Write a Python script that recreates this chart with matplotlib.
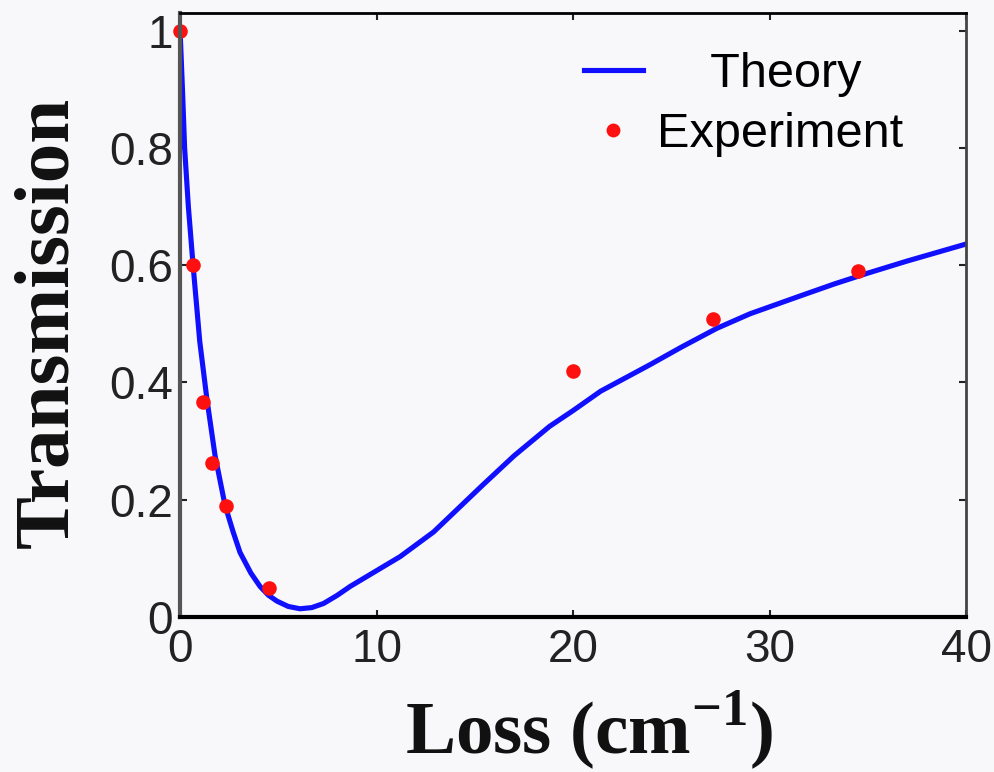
import matplotlib
matplotlib.use("Agg")
import matplotlib.pyplot as plt

exp_loss = [0.0, 0.66, 1.17, 1.63, 2.34, 4.53, 20.0, 27.1, 34.5]
exp_trans = [1.0, 0.60, 0.366, 0.263, 0.19, 0.05, 0.419, 0.508, 0.59]

# Theory curve, sampled by eye along the blue line
theory_loss = [0.0, 0.12, 0.23, 0.42, 0.66, 1.0, 1.37, 1.78, 2.29, 2.7, 3.05,
               3.6, 4.07, 4.5, 4.93, 5.5, 6.1, 6.7, 7.3, 8.0, 8.65, 10.0,
               11.2, 12.9, 15.4, 17.0, 18.8, 20.0, 21.4, 23.9, 25.5, 27.3,
               29.0, 31.6, 33.3, 34.96, 37.0, 40.0]
theory_trans = [1.0, 0.90, 0.80, 0.70, 0.60, 0.47, 0.37, 0.275, 0.19, 0.145,
                0.11, 0.075, 0.052, 0.037, 0.027, 0.018, 0.014, 0.016, 0.023,
                0.037, 0.052, 0.079, 0.103, 0.145, 0.225, 0.275, 0.325, 0.352,
                0.385, 0.43, 0.46, 0.492, 0.517, 0.548, 0.568, 0.586, 0.607,
                0.636]

xticks = [0, 10, 20, 30, 40]
yticks = [0, 0.2, 0.4, 0.6, 0.8, 1]
ytick_labels = ["0", "0.2", "0.4", "0.6", "0.8", "1"]

plt.rcParams["mathtext.fontset"] = "custom"
plt.rcParams["mathtext.rm"] = "Liberation Serif:bold"
plt.rcParams["mathtext.bf"] = "Liberation Serif:bold"

bg = "#f8f8fa"
fig = plt.figure(figsize=(9.95, 7.72), dpi=100, facecolor=bg)
ax = fig.add_axes([0.181, 0.2008, 0.79, 0.7824])
ax.set_facecolor(bg)

ax.plot(theory_loss, theory_trans, color="#1010ff", lw=3.7, label="    Theory")
ax.plot(exp_loss, exp_trans, "o", color="#ff1010", ms=10.5, mec="none",
        label="Experiment", clip_on=False)

ax.set_xlim(0, 40)
ax.set_ylim(0, 1.03)
ax.set_xticks(xticks)
ax.set_yticks(yticks)
ax.set_yticklabels(ytick_labels)

# Axes frame and ticks
for side, col, w in [("bottom", "black", 3), ("left", "#555555", 3),
                     ("top", "black", 2), ("right", "#444444", 2)]:
    ax.spines[side].set_color(col)
    ax.spines[side].set_linewidth(w)
ax.tick_params(direction="in", length=5, width=1.5, top=True, right=True,
               labelsize=33, colors="#222222")
ax.tick_params(axis="x", pad=8)
ax.tick_params(axis="y", pad=5)
for lab in ax.get_xticklabels() + ax.get_yticklabels():
    lab.set_fontfamily("Liberation Sans")

ax.set_xlabel("Loss (cm$^{-1}$)", fontsize=54, fontfamily="Liberation Serif",
              fontweight="bold", color="#111111", va="top")
ax.xaxis.set_label_coords(0.52, -0.12)
ax.set_ylabel("Transmission", fontsize=57, fontfamily="Liberation Serif",
              fontweight="bold", color="#111111")
ax.yaxis.set_label_coords(-0.122, 0.487)

leg = ax.legend(loc="upper right", frameon=False,
                prop={"family": "Liberation Sans", "size": 35},
                handlelength=1.2, handletextpad=0.3, labelspacing=0.3,
                borderpad=0, borderaxespad=0, markerscale=0.95,
                bbox_to_anchor=(0.92, 0.935))

fig.savefig("out.png", dpi=100, facecolor=fig.get_facecolor())
